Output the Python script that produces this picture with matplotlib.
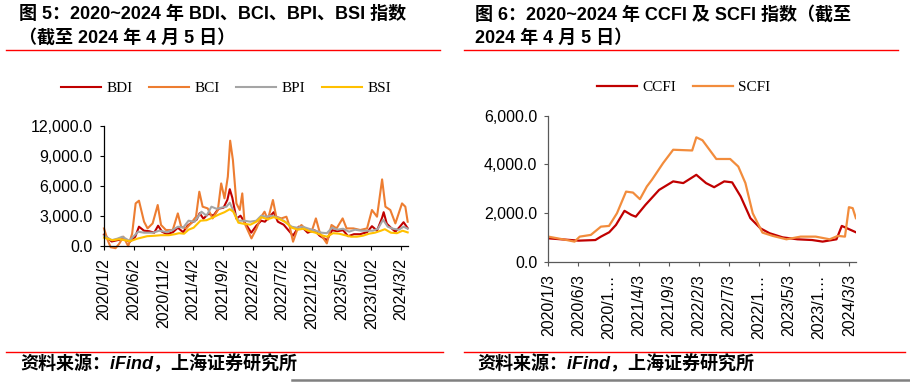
import matplotlib
matplotlib.use("Agg")
import matplotlib.pyplot as plt
from matplotlib.lines import Line2D
from matplotlib.ticker import FuncFormatter
import pandas as pd

plt.rcParams["font.family"] = ["Liberation Sans", "Noto Sans CJK SC"]

# ---- left chart: BDI / BCI / BPI / BSI ----
bdi_dates = ["2020-01-02", "2020-02-10", "2020-03-10", "2020-04-10", "2020-05-14", "2020-06-10",
             "2020-06-29", "2020-07-25", "2020-08-20", "2020-09-15", "2020-10-05", "2020-10-25",
             "2020-11-20", "2020-12-20", "2021-01-14", "2021-02-10", "2021-03-05", "2021-03-25",
             "2021-04-20", "2021-05-06", "2021-05-25", "2021-06-20", "2021-07-15", "2021-08-10",
             "2021-09-05", "2021-09-25", "2021-10-07", "2021-10-20", "2021-11-10", "2021-12-01",
             "2021-12-20", "2022-01-25", "2022-02-20", "2022-03-17", "2022-04-05", "2022-05-20",
             "2022-06-10", "2022-07-10", "2022-08-27", "2022-09-25", "2022-10-15", "2022-11-10",
             "2022-12-15", "2023-01-10", "2023-02-16", "2023-03-15", "2023-04-10", "2023-05-10",
             "2023-06-05", "2023-07-05", "2023-08-05", "2023-09-10", "2023-10-05", "2023-10-31",
             "2023-11-26", "2023-12-04", "2023-12-20", "2024-01-10", "2024-02-02", "2024-02-25",
             "2024-03-15", "2024-04-05"]
bdi = [1100, 420, 550, 650, 400, 900, 1900, 1500, 1450, 1300, 2000, 1400,
       1150, 1350, 1800, 1350, 2000, 2300, 2600, 3250, 2700, 3200, 3000, 3700,
       3800, 4600, 5650, 4800, 2700, 3000, 2400, 1300, 2000, 2500, 2400, 3350,
       2400, 2100, 1000, 1900, 1800, 1300, 1550, 1000, 550, 1550, 1450, 1550,
       950, 1150, 1150, 1350, 1950, 1500, 2800, 3350, 2200, 1800, 1400, 1900,
       2350, 1750]

bci_dates = ["2020-01-02", "2020-01-20", "2020-02-05", "2020-03-01", "2020-03-20", "2020-04-10",
             "2020-05-05", "2020-05-25", "2020-06-12", "2020-06-29", "2020-07-25", "2020-08-12",
             "2020-09-07", "2020-10-03", "2020-10-20", "2020-11-14", "2020-12-19", "2021-01-14",
             "2021-01-31", "2021-02-26", "2021-03-22", "2021-04-17", "2021-05-04", "2021-05-21",
             "2021-06-16", "2021-07-11", "2021-08-07", "2021-08-24", "2021-09-10", "2021-09-27",
             "2021-10-09", "2021-10-23", "2021-11-10", "2021-11-27", "2021-12-10", "2021-12-22",
             "2022-01-26", "2022-02-21", "2022-03-17", "2022-04-03", "2022-04-20", "2022-05-16",
             "2022-06-02", "2022-06-28", "2022-07-24", "2022-08-10", "2022-08-27", "2022-09-17",
             "2022-10-09", "2022-11-04", "2022-11-30", "2022-12-22", "2023-01-12", "2023-02-16",
             "2023-03-12", "2023-04-07", "2023-05-08", "2023-05-28", "2023-07-02", "2023-08-06",
             "2023-09-10", "2023-10-05", "2023-10-31", "2023-11-26", "2023-12-13", "2024-01-07",
             "2024-02-02", "2024-03-07", "2024-03-24", "2024-04-05"]
bci = [1730, 600, -150, -250, 200, 900, -50, 1200, 4230, 4500, 2400, 1730,
       2230, 4070, 2070, 1570, 1570, 3230, 1900, 1730, 2230, 2900, 5400, 3900,
       3730, 2730, 3570, 6230, 4730, 6900, 10500, 8570, 4230, 3570, 5230, 2230,
       730, 1730, 2900, 3400, 2600, 4570, 2900, 2730, 2900, 1900, 400, 1570,
       2070, 1570, 1400, 2730, 1230, 230, 2070, 1730, 2730, 1730, 1730, 1570,
       1730, 3570, 2900, 6630, 3900, 3570, 2230, 4230, 3900, 2400]

bpi_dates = ["2020-01-02", "2020-02-10", "2020-03-10", "2020-04-05", "2020-05-10", "2020-06-25",
             "2020-07-25", "2020-09-10", "2020-10-10", "2020-11-20", "2020-12-20", "2021-01-15",
             "2021-02-10", "2021-03-10", "2021-04-10", "2021-05-15", "2021-06-10", "2021-07-05",
             "2021-07-30", "2021-08-25", "2021-09-20", "2021-10-07", "2021-10-25", "2021-11-20",
             "2021-12-20", "2022-01-20", "2022-02-20", "2022-03-17", "2022-04-10", "2022-05-10",
             "2022-06-10", "2022-07-10", "2022-08-20", "2022-09-15", "2022-10-15", "2022-11-15",
             "2022-12-20", "2023-01-20", "2023-02-16", "2023-03-15", "2023-04-10", "2023-05-10",
             "2023-06-10", "2023-07-10", "2023-08-10", "2023-09-10", "2023-10-10", "2023-11-05",
             "2023-12-01", "2023-12-25", "2024-01-20", "2024-02-20", "2024-03-15", "2024-04-05"]
bpi = [1000, 550, 700, 900, 500, 1400, 1300, 1300, 1500, 1350, 1600, 1900,
       1800, 2500, 2400, 3400, 3000, 3900, 3700, 3800, 3900, 4300, 3500, 2500,
       2500, 2400, 2500, 3000, 2900, 3000, 2800, 2500, 1900, 1800, 1900, 1700,
       1500, 1300, 1250, 1800, 1600, 1700, 1400, 1600, 1500, 1500, 1500, 1700,
       2600, 1900, 1700, 1600, 1900, 1700]

bsi_dates = ["2020-01-02", "2020-02-15", "2020-03-20", "2020-05-15", "2020-06-20", "2020-08-10",
             "2020-09-20", "2020-10-20", "2020-11-30", "2020-12-30", "2021-01-20", "2021-02-15",
             "2021-03-10", "2021-04-05", "2021-05-10", "2021-06-10", "2021-07-10", "2021-08-10",
             "2021-09-10", "2021-10-07", "2021-10-25", "2021-11-20", "2021-12-15", "2022-01-20",
             "2022-02-20", "2022-03-17", "2022-04-20", "2022-05-20", "2022-06-20", "2022-07-20",
             "2022-08-20", "2022-09-20", "2022-10-20", "2022-11-20", "2022-12-20", "2023-01-20",
             "2023-02-16", "2023-03-20", "2023-04-20", "2023-05-20", "2023-06-20", "2023-07-20",
             "2023-08-20", "2023-09-20", "2023-10-20", "2023-11-20", "2023-12-10", "2024-01-10",
             "2024-02-10", "2024-03-10", "2024-04-05"]
bsi = [800, 550, 650, 450, 700, 950, 1000, 1050, 1050, 1150, 1250, 1200,
       1600, 1800, 2500, 2550, 2800, 3100, 3350, 3650, 3400, 2300, 2200, 2100,
       2400, 2850, 2650, 2850, 2650, 2350, 1800, 1600, 1700, 1450, 1300, 1050,
       900, 1250, 1200, 1050, 900, 900, 1000, 1200, 1300, 1500, 1650, 1300,
       1250, 1500, 1330]

left_ticks = ["2020-01-02", "2020-06-02", "2020-11-02", "2021-04-02", "2021-09-02", "2022-02-02",
              "2022-07-02", "2022-12-02", "2023-05-02", "2023-10-02", "2024-03-02"]
left_labels = ["2020/1/2", "2020/6/2", "2020/11/2", "2021/4/2", "2021/9/2", "2022/2/2",
               "2022/7/2", "2022/12/2", "2023/5/2", "2023/10/2", "2024/3/2"]

# ---- right chart: CCFI / SCFI ----
ccfi_dates = ["2020-01-03", "2020-06-05", "2020-08-28", "2020-09-25", "2020-11-06", "2020-12-10",
              "2021-01-22", "2021-02-26", "2021-03-20", "2021-05-08", "2021-07-16", "2021-09-25",
              "2021-11-15", "2022-01-20", "2022-03-10", "2022-04-20", "2022-06-10", "2022-07-20",
              "2022-09-01", "2022-10-20", "2022-12-10", "2023-01-25", "2023-04-01", "2023-06-15",
              "2023-08-28", "2023-10-20", "2023-12-29", "2024-01-25", "2024-04-05"]
ccfi = [960, 865, 890, 1030, 1210, 1510, 2090, 1920, 1850, 2335, 2950, 3300,
        3230, 3570, 3230, 3060, 3300, 3260, 2680, 1790, 1370, 1170, 1000, 920,
        890, 825, 920, 1470, 1210]

scfi_dates = ["2020-01-03", "2020-04-05", "2020-05-15", "2020-06-10", "2020-08-05", "2020-09-25",
              "2020-11-05", "2020-12-15", "2021-01-30", "2021-03-06", "2021-04-10", "2021-05-15",
              "2021-06-10", "2021-08-05", "2021-09-25", "2021-12-30", "2022-01-20", "2022-02-20",
              "2022-05-01", "2022-07-10", "2022-08-20", "2022-09-25", "2022-11-01", "2022-12-20",
              "2023-02-10", "2023-04-20", "2023-07-01", "2023-09-15", "2023-11-25", "2024-01-05",
              "2024-02-10", "2024-03-01", "2024-03-20", "2024-04-05"]
scfi = [1030, 890, 825, 1030, 1100, 1440, 1470, 1990, 2880, 2840, 2570, 3090,
        3370, 4050, 4600, 4570, 5110, 4990, 4220, 4220, 3910, 3230, 1990, 1195,
        1060, 920, 1030, 1030, 920, 1060, 1030, 2240, 2200, 1790]

right_ticks = ["2020-01-03", "2020-06-03", "2020-11-03", "2021-04-03", "2021-09-03", "2022-02-03",
               "2022-07-03", "2022-12-03", "2023-05-03", "2023-10-03", "2024-03-03"]
right_labels = ["2020/1/3", "2020/6/3", "2020/1\u2026", "2021/4/3", "2021/9/3", "2022/2/3",
                "2022/7/3", "2022/1\u2026", "2023/5/3", "2023/1\u2026", "2024/3/3"]

RED = "#C00000"
ORANGE = "#ED7D31"
GRAY = "#A5A5A5"
GOLD = "#FFC000"

fig = plt.figure(figsize=(9.1, 3.9), dpi=100)

ax1 = fig.add_axes([0.1143, 0.370, 0.3337, 0.3077])
ax1.plot(pd.to_datetime(bdi_dates), bdi, color=RED, lw=1.5, label="BDI", clip_on=False)
ax1.plot(pd.to_datetime(bci_dates), bci, color=ORANGE, lw=1.5, label="BCI", clip_on=False)
ax1.plot(pd.to_datetime(bpi_dates), bpi, color=GRAY, lw=1.5, label="BPI", clip_on=False)
ax1.plot(pd.to_datetime(bsi_dates), bsi, color=GOLD, lw=1.5, label="BSI", clip_on=False)
ax1.set_xlim(pd.Timestamp("2020-01-02"), pd.Timestamp("2024-04-05"))
ax1.set_ylim(0, 12000)
ax1.set_yticks([0, 3000, 6000, 9000, 12000])
ax1.set_xticks(pd.to_datetime(left_ticks))
ax1.set_xticklabels(left_labels, rotation=90)

ax2 = fig.add_axes([0.6025, 0.329, 0.338, 0.3744])
ax2.plot(pd.to_datetime(ccfi_dates), ccfi, color=RED, lw=1.6, label="CCFI")
ax2.plot(pd.to_datetime(scfi_dates), scfi, color="#F28C3C", lw=1.6, label="SCFI")
ax2.set_xlim(pd.Timestamp("2020-01-03"), pd.Timestamp("2024-04-05"))
ax2.set_ylim(0, 6000)
ax2.set_yticks([0, 2000, 4000, 6000])
ax2.set_xticks(pd.to_datetime(right_ticks))
ax2.set_xticklabels(right_labels, rotation=90)

fmt = FuncFormatter(lambda v, _: f"{v:,.1f}")
for ax, spine_color in [(ax1, "black"), (ax2, "#595959")]:
    ax.yaxis.set_major_formatter(fmt)
    ax.spines["top"].set_visible(False)
    ax.spines["right"].set_visible(False)
    for side in ["left", "bottom"]:
        ax.spines[side].set_color(spine_color)
        ax.spines[side].set_linewidth(0.9)
    ax.tick_params(axis="both", length=3, width=0.8, color=spine_color,
                   labelsize=11.5, labelcolor="black")
    ax.tick_params(axis="x", pad=6)
    ax.tick_params(axis="y", pad=5)

leg_kw = dict(ncol=4, frameon=False, handlelength=2.6, handletextpad=0.35,
              columnspacing=1.1, prop={"family": "Liberation Serif", "size": 11})
fig.legend(handles=ax1.get_lines(), loc="center", bbox_to_anchor=(226 / 910, 1 - 88 / 390), **leg_kw)
leg_kw["ncol"] = 2
fig.legend(handles=ax2.get_lines(), loc="center", bbox_to_anchor=(684 / 910, 1 - 87 / 390), **leg_kw)

# titles
title_kw = dict(fontsize=13, fontweight="bold", va="center", ha="left")
fig.text(19 / 910, 1 - 14 / 390, "图 5：2020~2024 年 BDI、BCI、BPI、BSI 指数", **title_kw)
fig.text(19 / 910, 1 - 38 / 390, "（截至 2024 年 4 月 5 日）", **title_kw)
fig.text(475 / 910, 1 - 15 / 390, "图 6：2020~2024 年 CCFI 及 SCFI 指数（截至", **title_kw)
fig.text(475 / 910, 1 - 38 / 390, "2024 年 4 月 5 日）", **title_kw)

# red rules under titles and above sources
for x0, x1 in [(6, 440), (464, 898)]:
    fig.add_artist(Line2D([x0 / 910, x1 / 910], [1 - 49.5 / 390] * 2, color="#FF0000", lw=1.0))
for x0, x1 in [(6, 443), (464, 905)]:
    fig.add_artist(Line2D([x0 / 910, x1 / 910], [1 - 352 / 390] * 2, color="#FF0000", lw=1.0))
fig.add_artist(Line2D([292 / 910, 1.0], [1 - 380 / 390] * 2, color="#808080", lw=1.8))

src_kw = dict(fontsize=13, fontweight="bold", style="italic", va="center", ha="left")
fig.text(20 / 910, 1 - 364 / 390, "资料来源：iFind，上海证券研究所", **src_kw)
fig.text(477 / 910, 1 - 364 / 390, "资料来源：iFind，上海证券研究所", **src_kw)

fig.savefig("out.png", dpi=100)
